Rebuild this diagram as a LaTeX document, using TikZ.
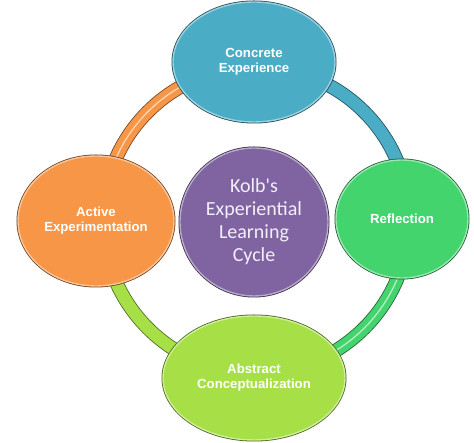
\documentclass[tikz,border=0pt]{standalone}
\usepackage{fontspec}
\setmainfont{Liberation Sans}
\newfontfamily\calib{Carlito}
\usetikzlibrary{shapes.geometric}
\definecolor{cAqua}{HTML}{4BACC6}
\definecolor{cGreen}{HTML}{44D46E}
\definecolor{cLime}{HTML}{A6E046}
\definecolor{cOrange}{HTML}{F79646}
\definecolor{cPurple}{HTML}{8064A2}
\definecolor{cText}{HTML}{F3EFF8}
\tikzset{
  blob/.style={ellipse, inner sep=0pt, fill=#1, draw=#1!55!white, line width=1.4pt,
    preaction={draw=#1!45!black, line width=3pt},
    text=white, font=\bfseries\fontsize{13.2}{15}\selectfont, align=center},
  band/.style={line width=14pt, draw=#1!45!black,
    postaction={draw=#1, line width=12.4pt}},
  bandhl/.style={band=#1, postaction={draw=#1!40!white, line width=1.3pt}},
}
\begin{document}
\begin{tikzpicture}[x=1pt,y=1pt]
\useasboundingbox (0,0) rectangle (474,443);
\coordinate (ring) at (256,223);
\draw[bandhl=cOrange] ([shift={(95:153)}]ring) arc[start angle=95, end angle=175, radius=153];
\draw[band=cAqua] ([shift={(5:153)}]ring) arc[start angle=5, end angle=85, radius=153];
\draw[bandhl=cGreen] ([shift={(-85:153)}]ring) arc[start angle=-85, end angle=-5, radius=153];
\draw[band=cLime] ([shift={(185:153)}]ring) arc[start angle=185, end angle=265, radius=153];
\node[blob=cAqua, minimum width=162pt, minimum height=120pt] (ce) at (254,381) {Concrete\\Experience};
\node[blob=cGreen, minimum width=132pt, minimum height=118pt] (ro) at (402,224) {Reflection};
\node[blob=cLime, minimum width=182pt, minimum height=124pt] (ac) at (254,65) {Abstract\\Conceptualization};
\node[blob=cOrange, minimum width=156pt, minimum height=130pt] (ae) at (96,222) {Active\\Experimentation};
\node[blob=cPurple, circle, minimum size=148pt, text=cText,
  font=\calib\fontsize{20}{23}\selectfont] (kolb) at (254,221) {Kolb's\\Experiential\\Learning\\Cycle};
\end{tikzpicture}
\end{document}
